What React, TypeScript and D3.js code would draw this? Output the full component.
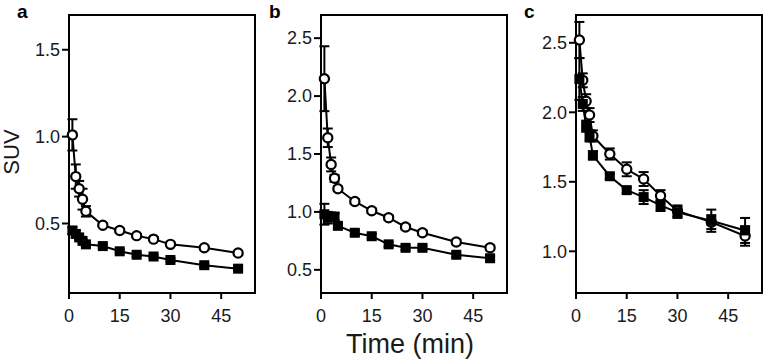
import React from 'react';
import * as d3 from 'd3';

const times = [1, 2, 3, 4, 5, 10, 15, 20, 25, 30, 40, 50];

const aCircle = [1.01, 0.77, 0.70, 0.64, 0.57, 0.49, 0.46, 0.43, 0.41, 0.38, 0.36, 0.33];
const aCircleErr = [0.09, 0.07, 0.045, 0.06, 0.03, 0.01, 0.01, 0.01, 0.01, 0.01, 0.01, 0.01];
const aSquare = [0.46, 0.44, 0.42, 0.40, 0.38, 0.37, 0.34, 0.32, 0.31, 0.29, 0.26, 0.24];
const aSquareErr = [0.02, 0.02, 0.01, 0.01, 0.01, 0.01, 0.01, 0.01, 0.01, 0.01, 0.01, 0.01];

const bCircle = [2.15, 1.64, 1.41, 1.29, 1.20, 1.09, 1.01, 0.95, 0.87, 0.82, 0.74, 0.69];
const bCircleErr = [0.28, 0.08, 0.06, 0.03, 0.02, 0.02, 0.02, 0.02, 0.02, 0.02, 0.02, 0.02];
const bSquare = [0.98, 0.95, 0.96, 0.96, 0.88, 0.82, 0.79, 0.72, 0.69, 0.69, 0.63, 0.60];
const bSquareErr = [0.09, 0.05, 0.03, 0.03, 0.02, 0.02, 0.02, 0.02, 0.02, 0.02, 0.02, 0.02];

const cCircle = [2.52, 2.23, 2.08, 1.98, 1.83, 1.70, 1.59, 1.52, 1.40, 1.29, 1.21, 1.11];
const cCircleErr = [0.13, 0.05, 0.05, 0.05, 0.04, 0.04, 0.05, 0.05, 0.04, 0.04, 0.05, 0.07];
const cSquare = [2.24, 2.06, 1.90, 1.83, 1.69, 1.54, 1.44, 1.39, 1.33, 1.28, 1.22, 1.15];
const cSquareErr = [0.15, 0.05, 0.04, 0.04, 0.03, 0.02, 0.02, 0.05, 0.04, 0.04, 0.08, 0.09];

const xTicks = [0, 15, 30, 45];

const panels = [
  { label: 'a', left: 69, yDomain: [0.1, 1.7], yTicks: [0.5, 1.0, 1.5], circle: aCircle, circleErr: aCircleErr, square: aSquare, squareErr: aSquareErr },
  { label: 'b', left: 321, yDomain: [0.3, 2.7], yTicks: [0.5, 1.0, 1.5, 2.0, 2.5], circle: bCircle, circleErr: bCircleErr, square: bSquare, squareErr: bSquareErr },
  { label: 'c', left: 576, yDomain: [0.7, 2.7], yTicks: [1.0, 1.5, 2.0, 2.5], circle: cCircle, circleErr: cCircleErr, square: cSquare, squareErr: cSquareErr },
];

const W = 763;
const H = 361;
const top = 15;
const plotW = 186;
const plotH = 278;
const font = '"Liberation Sans", Arial, sans-serif';

const Panel: React.FC<{ p: typeof panels[0] }> = ({ p }) => {
  const x = d3.scaleLinear().domain([0, 55]).range([0, plotW]);
  const y = d3.scaleLinear().domain(p.yDomain).range([plotH, 0]);
  const line = d3.line<number>().x((_, i) => x(times[i])).y(d => y(d));
  const fmt = d3.format('.1f');

  // capped error bars, both directions
  const errBars = (vals: number[], errs: number[]) =>
    vals.map((v, i) => {
      const cx = x(times[i]);
      const y1 = y(v + errs[i]);
      const y2 = y(v - errs[i]);
      return (
        <g key={i} stroke="#000" strokeWidth={2}>
          <line x1={cx} x2={cx} y1={y1} y2={y2} />
          <line x1={cx - 5} x2={cx + 5} y1={y1} y2={y1} />
          <line x1={cx - 5} x2={cx + 5} y1={y2} y2={y2} />
        </g>
      );
    });

  return (
    <g transform={`translate(${p.left},${top})`}>
      <text x={-52} y={3} fontFamily={font} fontWeight="bold" fontSize={19}>{p.label}</text>
      <rect x={0} y={0} width={plotW} height={plotH} fill="none" stroke="#000" strokeWidth={2} />
      {p.yTicks.map(t => (
        <g key={t} transform={`translate(0,${y(t)})`}>
          <line x1={-7} x2={0} stroke="#000" strokeWidth={2} />
          <text x={-9} dy="0.35em" textAnchor="end" fontFamily={font} fontSize={18} fill="#1a1a1a">{fmt(t)}</text>
        </g>
      ))}
      {xTicks.map(t => (
        <g key={t} transform={`translate(${x(t)},${plotH})`}>
          <line y1={0} y2={6} stroke="#000" strokeWidth={2} />
          <text y={29} textAnchor="middle" fontFamily={font} fontSize={18} fill="#1a1a1a">{t}</text>
        </g>
      ))}
      <path d={line(p.circle) || ''} fill="none" stroke="#000" strokeWidth={2} />
      <path d={line(p.square) || ''} fill="none" stroke="#000" strokeWidth={2} />
      {errBars(p.circle, p.circleErr)}
      {errBars(p.square, p.squareErr)}
      {p.circle.map((v, i) => (
        <circle key={i} cx={x(times[i])} cy={y(v)} r={4.6} fill="#fff" stroke="#000" strokeWidth={2.2} />
      ))}
      {p.square.map((v, i) => (
        <rect key={i} x={x(times[i]) - 5} y={y(v) - 5} width={10} height={10} fill="#000" />
      ))}
    </g>
  );
};

export default function App() {
  return (
    <svg width={W} height={H} style={{ position: 'absolute', left: 0, top: 0, background: '#fff' }}>
      {panels.map(p => <Panel key={p.label} p={p} />)}
      <text transform="translate(19,152) rotate(-90)" textAnchor="middle" fontFamily={font} fontSize={22} fill="#1a1a1a">SUV</text>
      <text x={410} y={353} textAnchor="middle" fontFamily={font} fontSize={27} fill="#1a1a1a">Time (min)</text>
    </svg>
  );
}
